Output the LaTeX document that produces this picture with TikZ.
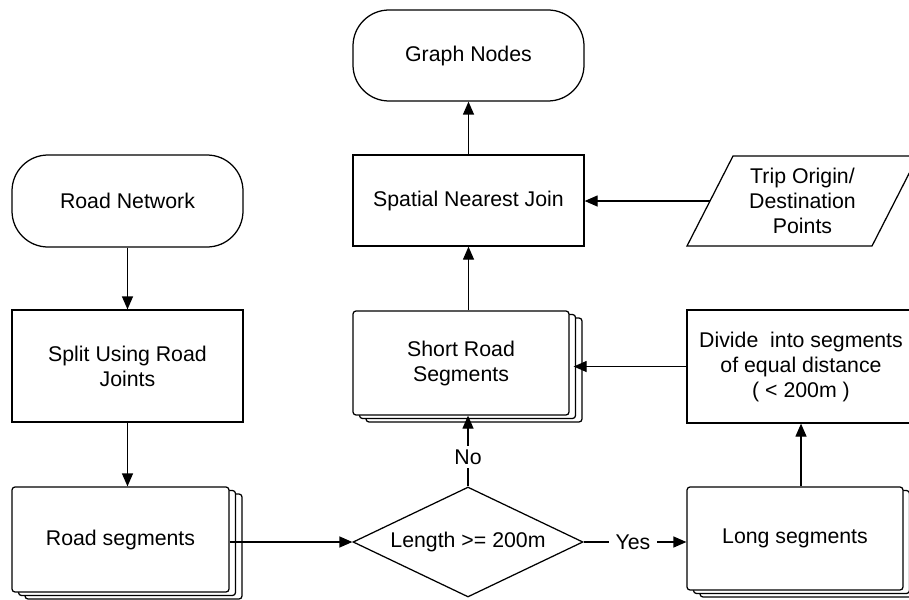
\documentclass[tikz,border=0pt]{standalone}
\usepackage{fontspec}
\setmainfont{Liberation Sans}
\usetikzlibrary{arrows.meta,shadows,shapes.geometric,calc}
\begin{document}
\begin{tikzpicture}[x=1pt,y=-1pt,line width=1.25pt,
  font=\fontsize{21.3}{25}\selectfont,
  box/.style={draw,fill=white,minimum width=231pt,minimum height=91pt,align=center,inner sep=0pt},
  term/.style={box,rounded corners=36pt},
  docs/.style={draw,fill=white,rounded corners=3pt,align=center,inner sep=0pt,
    copy shadow={shadow xshift=13pt,shadow yshift=-7pt},
    copy shadow={shadow xshift=6.5pt,shadow yshift=-3.5pt}},
  arr/.style={-{Triangle[length=13pt,width=11pt]}},
  lbl/.style={inner sep=3pt}]
\useasboundingbox (0,0) rectangle (909,599);
\clip (0,0) rectangle (909,599);
\fill[white] (0,0) rectangle (909,599);
% nodes
\node[term,minimum height=92pt] (rn) at (127.5,201) {Road Network};
\node[box,minimum height=112pt] (sp) at (127.5,366) {Split Using Road\\Joints};
\node[docs,minimum width=217pt,minimum height=105pt] (rs) at (120.5,539.5) {Road segments};
\node[diamond,draw,fill=white,aspect=2.09,inner sep=0pt,minimum width=230pt,minimum height=110pt] (len) at (468,542) {Length >= 200m};
\node[docs,minimum width=216pt,minimum height=104pt] (sr) at (461,363) {Short Road\\Segments};
\node[box] (sj) at (468.5,200.5) {Spatial Nearest Join};
\node[term] (gn) at (468.5,55.5) {Graph Nodes};
\node[docs,minimum width=216pt,minimum height=103pt] (ls) at (795,538.5) {Long segments};
\node[box,minimum width=228pt,minimum height=113pt] (dv) at (801,366.5) {Divide\ \ into segments\\of equal distance\\( < 200m )};
% parallelogram
\coordinate (p1) at (687,246);
\coordinate (p2) at (872,246);
\coordinate (p3) at (918,156);
\coordinate (p4) at (733,156);
\draw (p1) -- (p2) -- (p3) -- (p4) -- cycle;
\node[align=center] (trip) at (802.5,201) {Trip Origin/\\Destination\\Points};
\coordinate (tin) at ($(p1)!0.5!(p4)$);
% labels
\node[lbl] (no) at (468,457) {No};
\node[inner sep=6pt] (yes) at (633,542) {Yes};
% connectors
\draw[arr] (rn.south) -- (sp.north);
\draw[arr] (sp.south) -- (sp.south |- rs.north);
\draw[arr] (rs.east |- len.west) -- (len.west);
\draw (len.north) -- (no.south);
\draw[arr] (no.north) -- (no.north |- sr.south);
\draw (len.east) -- (yes.west);
\draw[arr] (yes.east) -- (ls.west |- yes.east);
\draw[arr] (ls.north -| dv.south) -- (dv.south);
\draw[arr] (dv.west) -- ($(sr.east |- dv.west)+(4,0)$);
\draw[arr] (sj.south |- sr.north) -- (sj.south);
\draw[arr] (sj.north) -- (gn.south);
\draw[arr] (tin) -- (tin -| sj.east);
\end{tikzpicture}
\end{document}
